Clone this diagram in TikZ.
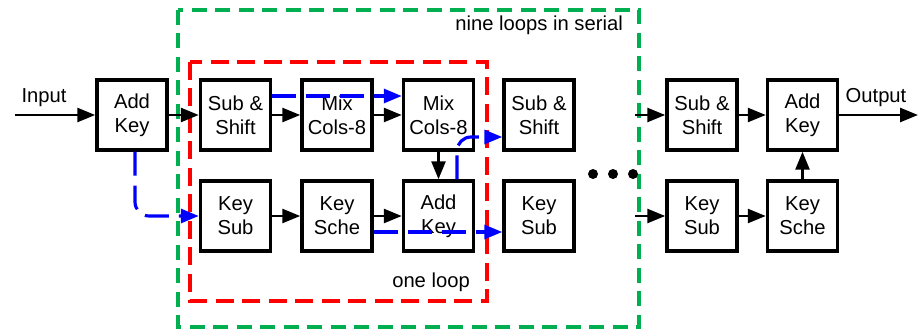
\documentclass[tikz,border=0pt]{standalone}
\usepackage{fontspec}
\setmainfont{Liberation Sans}
\usetikzlibrary{arrows.meta}
\definecolor{loopgreen}{RGB}{0,176,80}

\begin{document}
\begin{tikzpicture}[x=0.02cm,y=-0.02cm,
		blk/.style={draw,line width=2pt,minimum width=1.4cm,minimum height=1.4cm,
			inner sep=0pt,align=center,font=\fontsize{11.5}{13.5}\selectfont},
		conn/.style={line width=1.5pt,-{Triangle[length=0.36cm,width=0.28cm]}},
		keypath/.style={conn,blue,line width=1.8pt,dash pattern=on 0.48cm off 0.2cm},
		lbl/.style={font=\fontsize{11.5}{13.5}\selectfont}]
		\useasboundingbox (0,0) rectangle (923,331);
		% frames
		\draw[loopgreen,line width=1.8pt,dash pattern=on 0.3cm off 0.17cm] (178,10) rectangle (639,327);
		\draw[red,line width=1.8pt,dash pattern=on 0.36cm off 0.17cm] (190,62) rectangle (487,301);
		\node[lbl,anchor=east] (nine) at (629,25) {nine loops in serial};
		\node[lbl,anchor=east] (one) at (476,282) {one loop};
		% blocks
		\node[blk] (ak0) at (132,115) {Add\\Key};
		\node[blk] (ss1) at (235.5,115) {Sub \&\\Shift};
		\node[blk] (ks1) at (235.5,216) {Key\\Sub};
		\node[blk] (mc1) at (337,115) {Mix\\Cols-8};
		\node[blk] (mc2) at (438.5,115) {Mix\\Cols-8};
		\node[blk] (kc1) at (337,216) {Key\\Sche};
		\node[blk] (ak2) at (438.5,216) {Add\\Key};
		\node[blk] (ss3) at (539,115) {Sub \&\\Shift};
		\node[blk] (ks3) at (539,216) {Key\\Sub};
		\node[blk] (ss4) at (702,115) {Sub \&\\Shift};
		\node[blk] (ks4) at (702,216) {Key\\Sub};
		\node[blk] (ak5) at (802.5,115) {Add\\Key};
		\node[blk] (kc5) at (802.5,216) {Key\\Sche};
		% ends
		\coordinate (in) at (15,115);
		\coordinate (out) at (918,115);
		\coordinate (in4) at (635,115);
		\coordinate (in4k) at (635,216);
		\node[lbl] (inl) at (44,98) {Input};
		\node[lbl] (outl) at (876,98) {Output};
		% data path
		\draw[conn] (in) -- (ak0);
		\draw[conn] (ak0) -- (ss1);
		\draw[conn] (ss1) -- (mc1);
		\draw[conn] (mc1) -- (mc2);
		\draw[conn] (mc2) -- (ak2);
		\draw[conn] (ks1) -- (kc1);
		\draw[conn] (kc1) -- (ak2);
		\draw[conn] (in4) -- (ss4);
		\draw[conn] (in4k) -- (ks4);
		\draw[conn] (ss4) -- (ak5);
		\draw[conn] (ks4) -- (kc5);
		\draw[conn] (kc5) -- (ak5);
		\draw[conn] (ak5) -- (out);
		% dots
		\foreach \dx in {593,613,633}
			\fill (\dx,174) circle [radius=0.1cm];
		% key flow
		\draw[keypath,rounded corners=8pt] ([xshift=0.06cm]ak0.south) |- (ks1.west);
		\draw[keypath] ([yshift=0.38cm]ss1.east) -- ([yshift=0.38cm]mc2.west);
		\draw[keypath,rounded corners=8pt] ([xshift=0.37cm]ak2.north) |- ([yshift=-0.44cm]ss3.west);
		\draw[keypath] ([yshift=-0.32cm]kc1.east) -- ([yshift=-0.32cm]ks3.west);
	\end{tikzpicture}
\end{document}
